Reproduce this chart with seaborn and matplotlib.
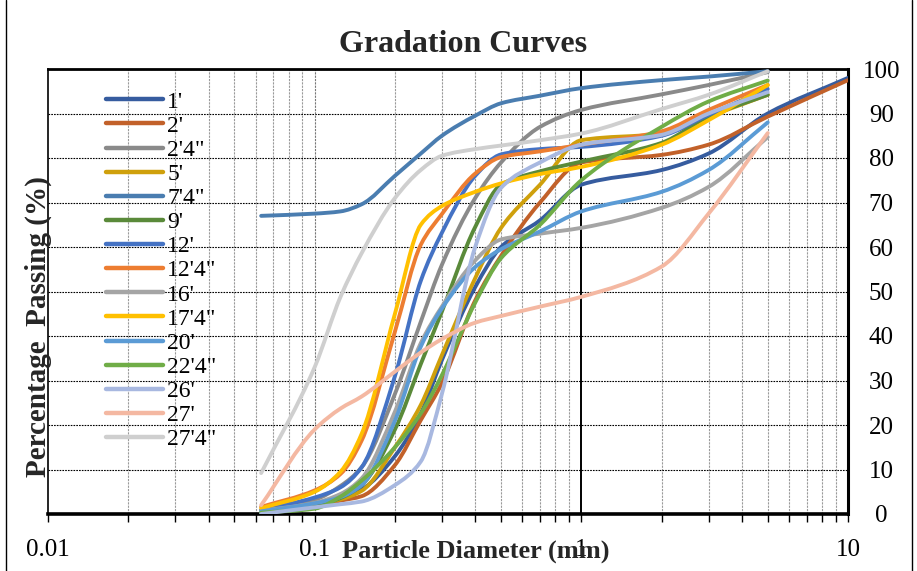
import numpy as np
import pandas as pd
import matplotlib
matplotlib.use("Agg")
import matplotlib.pyplot as plt
from matplotlib.path import Path
from matplotlib.patches import PathPatch
from matplotlib.ticker import LogLocator, FixedLocator, NullFormatter
import seaborn as sns

# Sieve openings (mm) at which the passing percentages are read
sieve = [0.063, 0.1, 0.125, 0.15, 0.2, 0.25, 0.3, 0.4, 0.5, 0.7, 1, 2, 3, 5]
sieve_coarse = sieve + [10]

depths = ["1'", "2'", "2'4\"", "5'", "7'4\"", "9'", "12'", "12'4\"",
          "16'", "17'4\"", "20'", "22'4\"", "26'", "27'", "27'4\""]

p_1 = [0.3, 2.0, 3.5, 5.5, 13, 22.6, 34.6, 51, 60, 66, 74, 77.3, 81, 90, 98]
p_2 = [0.5, 1.9, 3.0, 4.0, 11, 21.1, 29.4, 48, 58, 70, 79, 80.7, 83, 89.3, 97.5]
p_2_4 = [0.8, 3.2, 6.3, 10.5, 27, 43.2, 56, 71, 79, 87, 90.8, 94.3, 96.4, 99.3]
p_5 = [0.7, 2.2, 3.3, 5.2, 15, 24.5, 35.7, 53, 64.3, 74, 84, 85.5, 89.3, 94.2]
p_7_4 = [67, 67.5, 68, 69.6, 76, 81, 85, 89.5, 92.3, 94, 95.7, 97.5, 98.3, 99.5]
p_9 = [0.5, 1.8, 3.6, 6.5, 19, 33.7, 45.5, 64.5, 74, 77, 79.2, 83.4, 89.3, 94.2]
p_12 = [0.9, 3.7, 6.0, 10.5, 31, 52.4, 63.2, 76, 80.8, 82, 82.5, 85, 89.7, 95.5]
p_12_4 = [1.6, 5.3, 9.0, 16.5, 41, 60.5, 67.4, 76.5, 80.2, 81.5, 83, 86, 90.8, 96.4]
p_16 = [0.7, 2.5, 4.5, 8, 23, 38.4, 46.6, 57, 61.7, 63, 64.3, 68.8, 73.5, 84.7]
p_17_4 = [1.3, 5.0, 9.5, 18, 45, 65, 69.2, 72.4, 74.3, 76.4, 78, 83, 88.5, 96.4]
p_20 = [0.6, 2.4, 3.8, 6.5, 21, 37.6, 46.2, 55.5, 59.5, 63.5, 68, 72.4, 77.3, 88]
p_22_4 = [0.3, 1.2, 3.9, 7.5, 15, 22.6, 31.2, 47.5, 57.5, 65, 75, 87, 92.7, 97.4]
p_26 = [0, 1.5, 2.2, 2.8, 6.5, 11.8, 27, 60, 73.3, 79, 83, 85.2, 90, 94.8]
p_27 = [2, 19, 23.7, 26.4, 32, 36.3, 39.3, 43, 44.5, 46.6, 48.8, 55.6, 67.5, 85.6]
p_27_4 = [9.2, 33, 48.8, 58.6, 71, 77.3, 80.5, 82, 82.8, 84, 85.5, 91, 94.2, 99.5]

passing = [p_1, p_2, p_2_4, p_5, p_7_4, p_9, p_12, p_12_4,
           p_16, p_17_4, p_20, p_22_4, p_26, p_27, p_27_4]

colors = ["#365C9F", "#C2612A", "#8A8A8A", "#CFA00C", "#4A7DB0", "#5A8A3A",
          "#4472C4", "#ED7D31", "#A5A5A5", "#FFC000", "#5B9BD5", "#70AD47",
          "#A8B8E0", "#F4B8A2", "#CFCFCF"]

y_ticks = [0, 10, 20, 30, 40, 50, 60, 70, 80, 90, 100]
x_ticks = [0.01, 0.1, 1, 10]
x_tick_labels = ["0.01", "0.1", "1", "10"]

# Long-form table for seaborn
rows = []
for name, vals in zip(depths, passing):
    xs = sieve_coarse if len(vals) == len(sieve_coarse) else sieve
    for d, p in zip(xs, vals):
        rows.append({"Depth": name, "Diameter": d, "Passing": p})
df = pd.DataFrame(rows)

sns.set_theme(style="white")
plt.rcParams["font.family"] = ["Liberation Serif", "DejaVu Serif"]

fig = plt.figure(figsize=(9.17, 5.71), dpi=100)
ax = fig.add_axes([48 / 917, 57 / 571, 800 / 917, 445 / 571])

sns.lineplot(data=df, x="Diameter", y="Passing", hue="Depth",
             hue_order=depths, palette=colors, sort=False, estimator=None,
             linewidth=2.8, ax=ax, legend=True)

ax.set_xscale("log")
ax.set_xlim(0.01, 10)
ax.set_ylim(0, 100)


def smooth_path(xs, ys):
    """Monotone cubic Bezier through the points, built in log-x space."""
    u = np.log10(np.asarray(xs, float))
    v = np.asarray(ys, float)
    n = len(u)
    h = np.diff(u)
    delta = np.diff(v) / h
    m = np.zeros(n)
    m[0], m[-1] = delta[0], delta[-1]
    for k in range(1, n - 1):
        if delta[k - 1] * delta[k] <= 0:
            m[k] = 0.0
        else:
            w1 = 2 * h[k] + h[k - 1]
            w2 = h[k] + 2 * h[k - 1]
            m[k] = (w1 + w2) / (w1 / delta[k - 1] + w2 / delta[k])
    verts = [(u[0], v[0])]
    codes = [Path.MOVETO]
    for k in range(n - 1):
        verts.append((u[k] + h[k] / 3, v[k] + m[k] * h[k] / 3))
        verts.append((u[k + 1] - h[k] / 3, v[k + 1] - m[k + 1] * h[k] / 3))
        verts.append((u[k + 1], v[k + 1]))
        codes += [Path.CURVE4] * 3
    verts = np.array(verts)
    verts[:, 0] = 10 ** verts[:, 0]
    return Path(verts, codes)


# Redraw each series as a smoothed curve of the same colour
for line in list(ax.lines):
    xy = line.get_xydata()
    if len(xy) < 2:
        continue
    patch = PathPatch(smooth_path(xy[:, 0], xy[:, 1]), facecolor="none",
                      edgecolor=line.get_color(), linewidth=2.8,
                      capstyle="round", joinstyle="round", zorder=3)
    ax.add_patch(patch)
    line.remove()

# Grid: dotted major horizontals, dashed grey minor verticals
ax.set_axisbelow(True)
ax.yaxis.set_major_locator(FixedLocator(y_ticks))
ax.xaxis.set_major_locator(FixedLocator(x_ticks))
ax.xaxis.set_minor_locator(LogLocator(base=10, subs=np.arange(2, 10)))
ax.xaxis.set_minor_formatter(NullFormatter())
ax.grid(True, which="major", axis="y", color="black", linestyle=(0, (1.5, 1)),
        linewidth=0.8)
ax.grid(True, which="minor", axis="x", color="#9a9a9a", linestyle=(0, (2, 1)),
        linewidth=0.8)
ax.axvline(0.1, color="#777777", linestyle=(0, (2, 1)), linewidth=0.8, zorder=1)
ax.axvline(1, color="black", linewidth=1.4, zorder=1.5)

# Ticks and labels
ax.set_xticks(x_ticks)
ax.set_xticklabels(x_tick_labels)
ax.yaxis.tick_right()
ax.set_yticks(y_ticks)
ax.tick_params(axis="y", which="both", length=0, pad=24, labelsize=18,
               labelcolor="black")
for t in ax.get_yticklabels():
    t.set_horizontalalignment("center")
ax.tick_params(axis="x", which="both", direction="out", length=6, width=1,
               color="black", bottom=True, labelsize=18, pad=12,
               labelcolor="black")
ax.set_xlabel("")
ax.set_ylabel("")

for side, lw in {"top": 2.0, "right": 2.2, "bottom": 2.6, "left": 1.2}.items():
    ax.spines[side].set_visible(True)
    ax.spines[side].set_color("black")
    ax.spines[side].set_linewidth(lw)

# Legend
old = ax.get_legend()
handles = list(old.legend_handles)
labels = [t.get_text() for t in old.get_texts()]
old.remove()
for h in handles:
    h.set_linewidth(3.2)
leg = ax.legend(handles, labels, loc="upper left",
                bbox_to_anchor=(58 / 800, 1 - 22 / 445), frameon=False,
                fontsize=17, handlelength=2.4, handletextpad=0.2,
                labelspacing=0.11, borderaxespad=0, borderpad=0)
for t in leg.get_texts():
    t.set_color("black")

# Titles
fig.text(463 / 917, 1 - 44 / 571, "Gradation Curves", ha="center",
         va="center", fontsize=23, fontweight="bold")
fig.text(476 / 917, 1 - 551 / 571, "Particle Diameter (mm)", ha="center",
         va="center", fontsize=19, fontweight="bold")
fig.text(38 / 917, 1 - 327 / 571, "Percentage  Passing (%)", ha="center",
         va="center", rotation=90, fontsize=21, fontweight="bold")

# Outer frame
for xf in (6 / 917, 912 / 917):
    fig.add_artist(plt.Line2D([xf, xf], [0, 1], color="black", linewidth=1.0))

fig.savefig("out.png", dpi=100)
